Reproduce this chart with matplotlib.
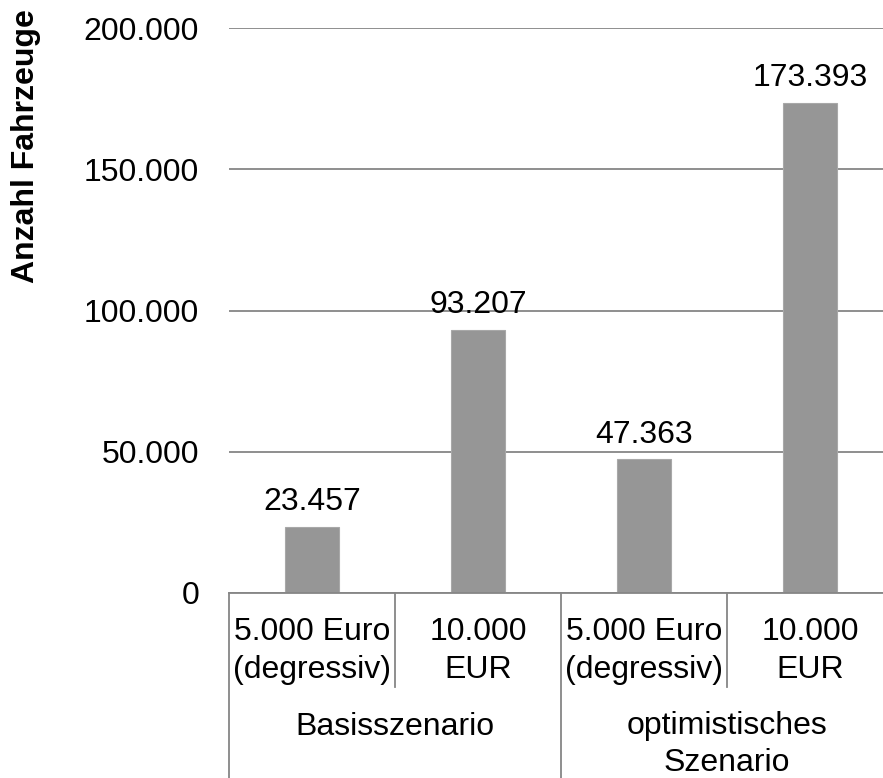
import matplotlib
matplotlib.use('Agg')
import matplotlib.pyplot as plt
import matplotlib.transforms as mtransforms
import numpy as np

# Daten
kategorien = ['5.000 Euro\n(degressiv)', '10.000\nEUR', '5.000 Euro\n(degressiv)', '10.000\nEUR']
gruppen = ['Basisszenario', 'optimistisches\nSzenario']
werte = [23457, 93207, 47363, 173393]
y_ticks = [0, 50000, 100000, 150000, 200000]

plt.rcParams['font.family'] = ['Liberation Sans', 'DejaVu Sans']
FS = 23

W, H = 883, 778
fig = plt.figure(figsize=(W / 100, H / 100), dpi=100)
fig.patch.set_facecolor('white')

# Achsen-Position in Pixeln (Plotbereich ragt rechts etwas über den Rand)
x0, x1, y_top, y_null = 229, 893, 28, 593
ax = fig.add_axes([x0 / W, (H - y_null) / H, (x1 - x0) / W, (y_null - y_top) / H])

x = np.arange(len(werte))
bars = ax.bar(x, werte, width=0.325, color='#969696', edgecolor='#a8a8a8', linewidth=0.8, zorder=3)

ax.set_xlim(-0.5, len(werte) - 0.5)
ax.set_ylim(0, 200000)
ax.set_yticks(y_ticks)
ax.set_yticklabels(['0' if v == 0 else f'{v:,.0f}'.replace(',', '.') for v in y_ticks], fontsize=FS)
ax.tick_params(axis='y', length=0, pad=21.5)
ax.set_xticks([])

ax.grid(axis='y', color='#868686', linewidth=1.3, zorder=0)
for s in ['top', 'right', 'left']:
    ax.spines[s].set_visible(False)
ax.spines['bottom'].set_color('#868686')
ax.spines['bottom'].set_linewidth(1.3)
ax.spines['bottom'].set_zorder(4)

# Werte über den Balken
for rect, v in zip(bars, werte):
    ax.annotate(f'{v:,.0f}'.replace(',', '.'),
                xy=(rect.get_x() + rect.get_width() / 2, v),
                xytext=(0, 12), textcoords='offset points',
                ha='center', va='baseline', fontsize=FS)

# Mehrstufige Kategorienachse
trans = mtransforms.blended_transform_factory(ax.transData, ax.transAxes)
ph = y_null - y_top
def ay(py):
    return (y_null - py) / ph

for xv, tief in [(-0.5, 790), (0.5, 687), (1.5, 790), (2.5, 687), (3.5, 790)]:
    ax.plot([xv, xv], [0, ay(tief)], transform=trans, color='#868686',
            linewidth=1.3, clip_on=False, zorder=4)

# va='baseline' richtet hier die letzte Zeile aus
for xi, lab in zip(x, kategorien):
    ax.text(xi, ay(678), lab, transform=trans, ha='center', va='baseline',
            fontsize=FS, linespacing=1.35)

gruppen_y = [735, 771]
for gi, (lab, gy) in enumerate(zip(gruppen, gruppen_y)):
    ax.text(gi * 2 + 0.5, ay(gy), lab, transform=trans, ha='center', va='baseline',
            fontsize=FS, linespacing=1.3)

fig.text(26 / W, (H - 146) / H, 'Anzahl Fahrzeuge', rotation=90, ha='center', va='center',
         fontsize=FS, fontweight='bold')

fig.savefig('out.png', dpi=100, facecolor='white')
